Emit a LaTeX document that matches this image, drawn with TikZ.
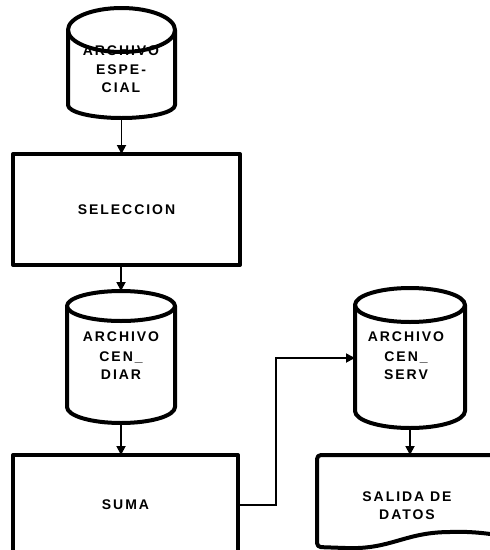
\documentclass[tikz,border=0pt]{standalone}
\usepackage{fontspec}
\setmainfont{Liberation Sans}[LetterSpace=14]
\usetikzlibrary{arrows.meta}
\newcommand\drawcyl[4]{%
  \draw[heavy] ([yshift=-#3pt]#1.north west) -- ([yshift=#4pt]#1.south west)
     arc[start angle=180, end angle=360, x radius=#2pt, y radius=#4pt]
     -- ([yshift=-#3pt]#1.north east);
  \draw[heavy] ([yshift=-#3pt]#1.north) ellipse[x radius=#2pt, y radius=#3pt];
}
\begin{document}
\begin{tikzpicture}[x=1pt,y=-1pt,
  heavy/.style={line width=4pt, line join=round},
  conn/.style={line width=1.8pt, -{Triangle[length=9pt,width=9pt]}},
  lbl/.style={font=\fontsize{14}{18}\selectfont\bfseries, align=center, inner sep=0pt},
  shapebox/.style={inner sep=0pt, outer sep=0pt, draw=none},
  procbox/.style={shapebox, draw, heavy, font=\fontsize{14}{18}\selectfont\bfseries},
]
\useasboundingbox (0,0) rectangle (490,550);
\clip (0,0) rectangle (490,550);

% cylinder outlines (named nodes)
\node[shapebox, minimum width=107pt, minimum height=110pt] (esp) at (121.5,63) {};
\node[shapebox, minimum width=108pt, minimum height=132pt] (diar) at (121,357) {};
\node[shapebox, minimum width=110pt, minimum height=140pt] (serv) at (410,358) {};

% texts inside cylinders (drawn first, outlines on top)
\node[lbl] (tesp) at (121,69) {ARCHIVO\\[1pt]ESPE-\\CIAL};
\node[lbl] (tdiar) at (121,356) {ARCHIVO\\[2pt]CEN\_\\DIAR};
\node[lbl] (tserv) at (406,356) {ARCHIVO\\[2pt]CEN\_\\SERV};

\drawcyl{esp}{53.5}{22}{13}
\drawcyl{diar}{54}{15}{16}
\drawcyl{serv}{55}{17}{17}

% process boxes
\node[procbox, minimum width=227pt, minimum height=111pt] (sel) at (126.5,209.5) {SELECCION};
\node[procbox, minimum width=225pt, minimum height=100pt] (suma) at (125.5,505) {SUMA};

% document
\node[shapebox, minimum width=228pt, minimum height=95pt] (doc) at (431,502.5) {};
\draw[heavy, rounded corners=4pt] (560,455) -- (317,455) -- (317,547) -- (345,548)
   .. controls (390,549) and (405,533) .. (450,532)
   .. controls (490,531) and (520,540) .. (560,545);
\node[lbl] (tdoc) at (407,506) {SALIDA DE\\DATOS};

% connectors
\coordinate (bend) at (276,0);
\draw[conn] (esp.south) -- (esp.south |- sel.north);
\draw[conn] (diar.north |- sel.south) -- (diar.north);
\draw[conn] (diar.south) -- (diar.south |- suma.north);
\draw[conn] (suma.east) -- (suma.east -| bend) -- (bend |- serv.west) -- (serv.west);
\draw[conn] (serv.south) -- (serv.south |- doc.north);
\end{tikzpicture}
\end{document}
